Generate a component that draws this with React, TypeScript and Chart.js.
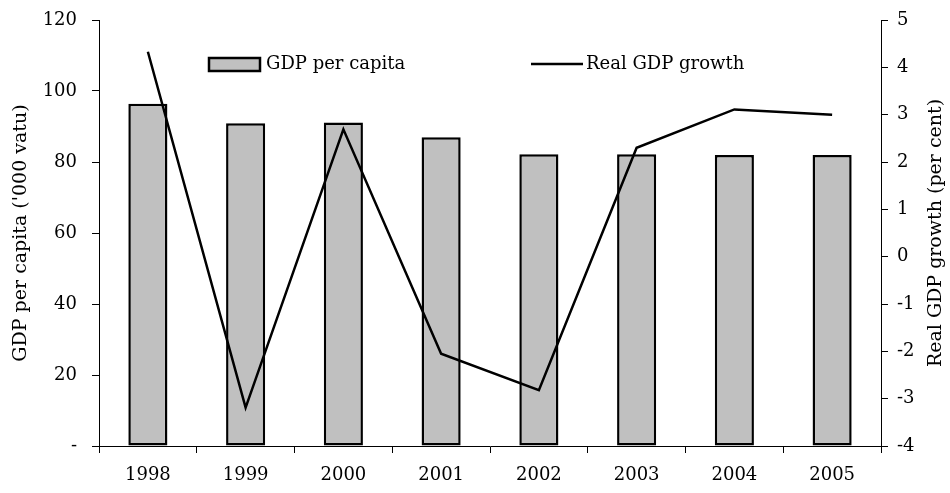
import React, { useEffect, useRef } from "react";
import { Chart, registerables } from "chart.js";

Chart.register(...registerables);

const categories = ["1998", "1999", "2000", "2001", "2002", "2003", "2004", "2005"];
const gdpPerCapita = [96.4, 90.9, 91.1, 87.0, 82.2, 82.2, 82.0, 82.0];
const realGdpGrowth = [4.33, -3.19, 2.69, -2.05, -2.82, 2.3, 3.11, 3.0];
const leftTitle = "GDP per capita ('000 vatu)";
const rightTitle = "Real GDP growth (per cent)";
const barLabel = "GDP per capita";
const lineLabel = "Real GDP growth";

const FONT = "DejaVu Serif";
const FS = 18;
const TITLE_FS = 19;

const overlayPlugin = {
  id: "overlay",
  afterDraw(chart: any) {
    const { ctx, chartArea } = chart;
    ctx.save();
    ctx.font = `${FS}px "${FONT}"`;
    ctx.fillStyle = "#000";
    ctx.textBaseline = "middle";
    // legend
    const l = chartArea.left;
    const t = chartArea.top;
    ctx.fillStyle = "#c0c0c0";
    ctx.fillRect(l + 110, t + 38, 51, 13);
    ctx.strokeStyle = "#000";
    ctx.lineWidth = 2.5;
    ctx.strokeRect(l + 110, t + 38, 51, 13);
    ctx.fillStyle = "#000";
    ctx.textAlign = "left";
    ctx.fillText(barLabel, l + 167, t + 44.5);
    ctx.beginPath();
    ctx.lineWidth = 2.5;
    ctx.moveTo(l + 432, t + 44);
    ctx.lineTo(l + 484, t + 44);
    ctx.stroke();
    ctx.fillText(lineLabel, l + 487, t + 44.5);
    // axis titles
    const cy = (chartArea.top + chartArea.bottom) / 2;
    ctx.font = `${TITLE_FS}px "${FONT}"`;
    ctx.textAlign = "center";
    ctx.save();
    ctx.translate(21, cy);
    ctx.rotate(-Math.PI / 2);
    ctx.fillText(leftTitle, 0, 0);
    ctx.restore();
    ctx.save();
    ctx.translate(936, cy);
    ctx.rotate(-Math.PI / 2);
    ctx.fillText(rightTitle, 0, 0);
    ctx.restore();
    ctx.restore();
  },
};

export default function App() {
  const ref = useRef<HTMLCanvasElement | null>(null);
  useEffect(() => {
    if (!ref.current) return;
    const font = { family: FONT, size: FS };
    const yFont = { family: FONT, size: FS, lineHeight: 0.5 };
    const chart = new Chart(ref.current, {
      type: "bar",
      data: {
        labels: categories,
        datasets: [
          {
            type: "line",
            label: lineLabel,
            data: realGdpGrowth,
            yAxisID: "y1",
            borderColor: "#000",
            backgroundColor: "#000",
            borderWidth: 2.5,
            pointRadius: 0,
            tension: 0,
            order: 0,
          } as any,
          {
            type: "bar",
            label: barLabel,
            data: gdpPerCapita,
            yAxisID: "y",
            backgroundColor: "#c0c0c0",
            borderColor: "#000",
            borderWidth: 2.5,
            borderSkipped: false,
            barPercentage: 0.4,
            categoryPercentage: 1,
            order: 1,
          },
        ],
      },
      options: {
        animation: false,
        responsive: true,
        maintainAspectRatio: false,
        layout: { padding: { top: 20, left: 0, right: 0, bottom: 0 } },
        plugins: { legend: { display: false }, tooltip: { enabled: false } },
        scales: {
          x: {
            type: "category",
            offset: true,
            grid: { offset: true, drawOnChartArea: false, tickLength: 7, color: "#000", lineWidth: 1 },
            border: { color: "#000", width: 1 },
            ticks: { color: "#000", font, padding: 12, maxRotation: 0 },
            afterFit(scale: any) {
              scale.height = 47;
            },
          },
          y: {
            type: "linear",
            position: "left",
            min: 0,
            max: 120,
            ticks: {
              stepSize: 20,
              color: "#000",
              font: yFont,
              padding: 15,
              callback: (v: any) => (v === 0 ? "-" : String(v)),
            },
            grid: { drawOnChartArea: false, tickLength: 7, color: "#000", lineWidth: 1 },
            border: { color: "#000", width: 1 },
            afterFit(scale: any) {
              scale.width = 99;
            },
          },
          y1: {
            type: "linear",
            position: "right",
            min: -4,
            max: 5,
            ticks: { stepSize: 1, color: "#000", font: yFont, padding: 9 },
            grid: { drawOnChartArea: false, tickLength: 7, color: "#000", lineWidth: 1 },
            border: { color: "#000", width: 1 },
            afterFit(scale: any) {
              scale.width = 69;
            },
          },
        },
      },
      plugins: [overlayPlugin],
    });
    return () => chart.destroy();
  }, []);
  return (
    <div style={{ position: "absolute", left: 0, top: 0, width: 950, height: 493, background: "#fff" }}>
      <canvas ref={ref} />
    </div>
  );
}
